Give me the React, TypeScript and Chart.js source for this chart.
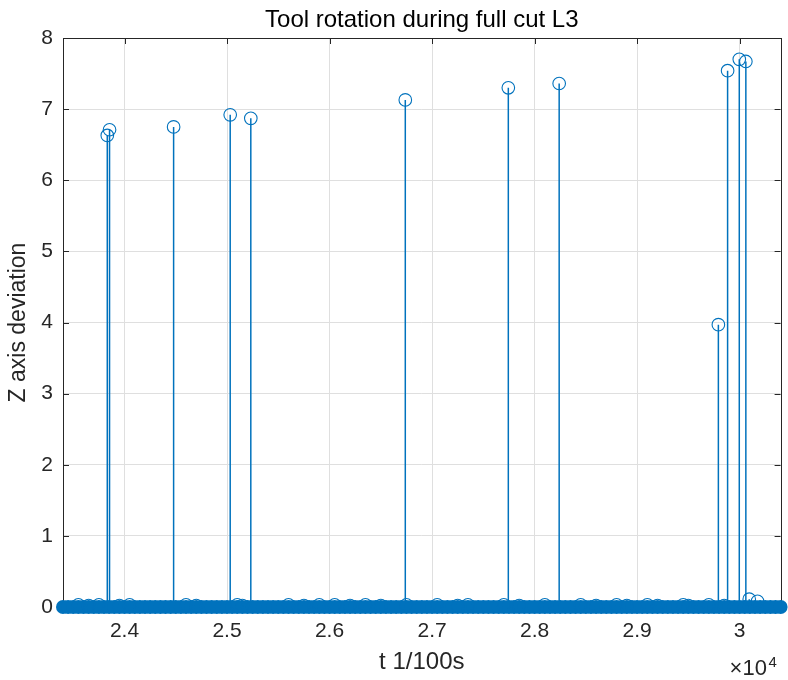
import React, { useEffect, useRef } from 'react';
import { Chart, registerables } from 'chart.js';

Chart.register(...registerables);

// ---- data (t in 1/100 s, Z axis deviation) ----
const spikeTimes = [23832, 23854, 24479, 25031, 25232, 26739, 27744, 28240, 29793, 29883, 29997, 30061];
const spikeValues = [6.63, 6.71, 6.75, 6.92, 6.87, 7.13, 7.3, 7.36, 3.97, 7.54, 7.7, 7.67];

const lowTimes = [23550, 23650, 23750, 23950, 24050, 24600, 24700, 25100, 25150, 25600, 25750, 25900, 26050, 26200, 26350, 26500, 26750, 27050, 27250, 27350, 27700, 27850, 28100, 28450, 28600, 28800, 28900, 29100, 29200, 29450, 29500, 29700, 29850, 30094, 30175];
const lowValues = [0.03, 0.02, 0.03, 0.02, 0.03, 0.03, 0.02, 0.03, 0.02, 0.03, 0.02, 0.03, 0.03, 0.02, 0.03, 0.02, 0.03, 0.03, 0.02, 0.03, 0.03, 0.02, 0.03, 0.03, 0.02, 0.03, 0.02, 0.03, 0.02, 0.03, 0.02, 0.03, 0.02, 0.11, 0.08];

// samples where the deviation is zero
const zeroTimes = [
  23400, 23450, 23500, 23550, 23600, 23650, 23700, 23750, 23800, 23850,
  23900, 23950, 24000, 24050, 24100, 24150, 24200, 24250, 24300, 24350,
  24400, 24450, 24500, 24550, 24600, 24650, 24700, 24750, 24800, 24850,
  24900, 24950, 25000, 25050, 25100, 25150, 25200, 25250, 25300, 25350,
  25400, 25450, 25500, 25550, 25600, 25650, 25700, 25750, 25800, 25850,
  25900, 25950, 26000, 26050, 26100, 26150, 26200, 26250, 26300, 26350,
  26400, 26450, 26500, 26550, 26600, 26650, 26700, 26750, 26800, 26850,
  26900, 26950, 27000, 27050, 27100, 27150, 27200, 27250, 27300, 27350,
  27400, 27450, 27500, 27550, 27600, 27650, 27700, 27750, 27800, 27850,
  27900, 27950, 28000, 28050, 28100, 28150, 28200, 28250, 28300, 28350,
  28400, 28450, 28500, 28550, 28600, 28650, 28700, 28750, 28800, 28850,
  28900, 28950, 29000, 29050, 29100, 29150, 29200, 29250, 29300, 29350,
  29400, 29450, 29500, 29550, 29600, 29650, 29700, 29750, 29800, 29850,
  29900, 29950, 30000, 30050, 30100, 30150, 30200, 30250, 30300, 30350,
  30400,
];

const xTickValues = [24000, 25000, 26000, 27000, 28000, 29000, 30000];
const xTickLabels = ['2.4', '2.5', '2.6', '2.7', '2.8', '2.9', '3'];
const yTickValues = [0, 1, 2, 3, 4, 5, 6, 7, 8];

const X_MIN = 23400;
const X_MAX = 30400;
const Y_MIN = 0;
const Y_MAX = 8;

const TITLE = 'Tool rotation during full cut L3';
const X_LABEL = 't 1/100s';
const Y_LABEL = 'Z axis deviation';

const FONT = '"Liberation Sans", Arial, Helvetica, sans-serif';
const BLUE = '#0072BD';
const AXIS = '#262626';
const GRID = '#DFDFDF';

const matlabAxes = {
  id: 'matlabAxes',
  beforeDatasetsDraw(chart: any) {
    const { ctx, chartArea, scales } = chart;
    const { left, right, top, bottom } = chartArea;
    const x = scales.x;
    const y = scales.y;
    ctx.save();
    ctx.strokeStyle = AXIS;
    ctx.lineWidth = 1;
    ctx.strokeRect(Math.round(left) + 0.5, Math.round(top) + 0.5, Math.round(right - left), Math.round(bottom - top));
    const L = 6;
    ctx.beginPath();
    for (const v of xTickValues) {
      const px = Math.round(x.getPixelForValue(v)) + 0.5;
      ctx.moveTo(px, bottom);
      ctx.lineTo(px, bottom - L);
      ctx.moveTo(px, top);
      ctx.lineTo(px, top + L);
    }
    for (const v of yTickValues) {
      const py = Math.round(y.getPixelForValue(v)) + 0.5;
      ctx.moveTo(left, py);
      ctx.lineTo(left + L, py);
      ctx.moveTo(right, py);
      ctx.lineTo(right - L, py);
    }
    ctx.stroke();
    ctx.restore();
  },
  afterDraw(chart: any) {
    const { ctx, chartArea } = chart;
    const { left, right, bottom } = chartArea;
    ctx.save();
    ctx.fillStyle = '#000000';
    ctx.font = `24px ${FONT}`;
    ctx.textAlign = 'center';
    ctx.textBaseline = 'alphabetic';
    ctx.fillText(TITLE, (left + right) / 2, 27);
    ctx.fillStyle = AXIS;
    ctx.textAlign = 'left';
    ctx.font = `22px ${FONT}`;
    ctx.fillText('\u00d710', right - 51, bottom + 68);
    ctx.font = `15px ${FONT}`;
    ctx.fillText('4', right - 12, bottom + 60);
    ctx.restore();
  },
};

export default function App() {
  const canvasRef = useRef<HTMLCanvasElement | null>(null);

  useEffect(() => {
    const canvas = canvasRef.current;
    if (!canvas) return;

    const stemTimes = [...spikeTimes, ...lowTimes];
    const stemValues = [...spikeValues, ...lowValues];
    const stemData: any[] = [];
    stemTimes.forEach((t, i) => {
      stemData.push({ x: t, y: 0 });
      stemData.push({ x: t, y: stemValues[i] });
      stemData.push({ x: t, y: null });
    });
    const markerData = stemTimes.map((t, i) => ({ x: t, y: stemValues[i] }));
    const zeroData = zeroTimes.map((t) => ({ x: t, y: 0 }));

    const chart = new Chart(canvas, {
      type: 'scatter',
      data: {
        datasets: [
          {
            type: 'scatter',
            data: markerData,
            pointStyle: 'circle',
            pointRadius: 6.3,
            borderWidth: 1.1,
            borderColor: BLUE,
            backgroundColor: 'rgba(0,0,0,0)',
            clip: false as any,
            order: 0,
          } as any,
          {
            type: 'scatter',
            data: zeroData,
            pointStyle: 'circle',
            pointRadius: 7,
            borderWidth: 0,
            borderColor: BLUE,
            backgroundColor: BLUE,
            clip: false as any,
            order: 1,
          } as any,
          {
            type: 'line',
            data: stemData,
            borderColor: BLUE,
            borderWidth: 1.5,
            pointRadius: 0,
            spanGaps: false,
            fill: false,
            order: 2,
          } as any,
        ],
      },
      options: {
        animation: false,
        responsive: false,
        devicePixelRatio: 1,
        events: [],
        layout: { padding: { left: 0, right: 5, top: 38, bottom: 0 } },
        plugins: {
          legend: { display: false },
          tooltip: { enabled: false },
          title: { display: false },
        },
        scales: {
          x: {
            type: 'linear',
            min: X_MIN,
            max: X_MAX,
            afterBuildTicks: (s: any) => {
              s.ticks = xTickValues.map((v) => ({ value: v }));
            },
            afterFit: (s: any) => {
              s.height = 73;
              s.paddingLeft = 0;
              s.paddingRight = 0;
              s.paddingTop = 0;
              s.paddingBottom = 0;
            },
            grid: { color: GRID, lineWidth: 1, drawTicks: false },
            border: { display: false },
            ticks: {
              padding: 12,
              color: AXIS,
              font: { family: FONT, size: 21 },
              maxRotation: 0,
              autoSkip: false,
              callback: (v: any) => {
                const i = xTickValues.indexOf(Number(v));
                return i >= 0 ? xTickLabels[i] : '';
              },
            },
            title: {
              display: true,
              text: X_LABEL,
              color: AXIS,
              font: { family: FONT, size: 24 },
              padding: { top: 0, bottom: 3 },
            },
          },
          y: {
            type: 'linear',
            min: Y_MIN,
            max: Y_MAX,
            afterBuildTicks: (s: any) => {
              s.ticks = yTickValues.map((v) => ({ value: v }));
            },
            afterFit: (s: any) => {
              s.width = 63;
              s.paddingLeft = 0;
              s.paddingRight = 0;
              s.paddingTop = 0;
              s.paddingBottom = 0;
            },
            grid: { color: GRID, lineWidth: 1, drawTicks: false },
            border: { display: false },
            ticks: {
              padding: 10,
              color: AXIS,
              font: { family: FONT, size: 21 },
              autoSkip: false,
              callback: (v: any) => String(v),
            },
            title: {
              display: true,
              text: Y_LABEL,
              color: AXIS,
              font: { family: FONT, size: 23 },
              padding: { top: 5, bottom: 0 },
            },
          },
        },
      } as any,
      plugins: [matlabAxes],
    });

    return () => {
      chart.destroy();
    };
  }, []);

  return (
    <div style={{ position: 'absolute', left: 0, top: 0, width: 788, height: 680, background: '#ffffff' }}>
      <canvas ref={canvasRef} width={788} height={680} style={{ width: 788, height: 680, display: 'block' }} />
    </div>
  );
}
